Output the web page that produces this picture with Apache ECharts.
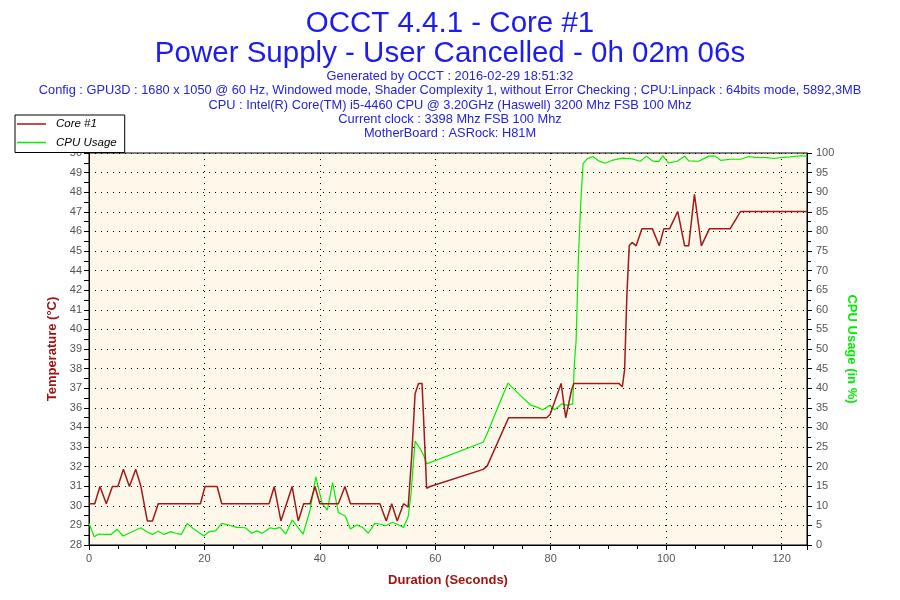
<!DOCTYPE html>
<html><head><meta charset="utf-8">
<script src="https://cdn.jsdelivr.net/npm/echarts@6/dist/echarts.min.js"></script>
<style>html,body{margin:0;padding:0;background:#fff}#c{width:900px;height:600px}</style>
</head><body><div id="c"></div>
<script>
const titleLines = ['OCCT 4.4.1 - Core #1', 'Power Supply - User Cancelled - 0h 02m 06s'];
const infoLines = [
  'Generated by OCCT : 2016-02-29 18:51:32',
  'Config : GPU3D : 1680 x 1050 @ 60 Hz, Windowed mode, Shader Complexity 1, without Error Checking ; CPU:Linpack : 64bits mode, 5892,3MB',
  'CPU : Intel(R) Core(TM) i5-4460 CPU @ 3.20GHz (Haswell) 3200 Mhz FSB 100 Mhz',
  'Current clock : 3398 Mhz FSB 100 Mhz',
  'MotherBoard : ASRock: H81M'
];
const seriesNames = ['Core #1', 'CPU Usage'];
const tempTickLabels = [28,29,30,31,32,33,34,36,37,38,39,40,41,42,44,45,46,47,48,49,50];
const tempMin = 27.6, tempMax = 50.4;
const timeMax = 124.4;

const coreTime = [0,1.0,1.9,3.0,4.05,5.0,5.96,7.0,8.1,9.0,10.1,11.0,12.0,19.3,20.1,21.4,22.2,23.0,31.2,32.1,33.25,35.2,36.25,37.2,38.3,39.15,40.0,43.2,44.35,45.3,50.4,51.5,52.45,53.4,54.5,55.3,55.9,56.5,57.1,57.7,57.9,58.5,59.1,68.3,69.0,72.7,79.3,79.9,81.8,82.6,83.6,84.0,91.8,92.4,92.8,93.2,93.6,94.1,94.8,95.8,97.6,98.8,99.6,100.6,102.0,103.2,103.9,104.9,106.1,107.5,111.1,112.9,124.4];
const coreTemp = [30,30,31,30,31,31,32,31,32,31,29,29,30,30,31,31,31,30,30,31,29,31,29,30,30,31,30,30,31,30,30,29,30,29,30,29.8,32.7,36.4,37,37,35.5,30.9,31,32,32.2,35,35,35.2,37,35,36.6,37,37,36.8,37.8,42.2,45,45.2,45,46,46,45,46,46,47,45,45,48,45,46,46,47,47];

const cpuTime = [0,0.9,1.7,2.6,3.8,4.9,5.9,6.9,9.0,10.0,11.0,12.0,13.0,14.2,15.0,16.0,17.0,18.0,19.9,20.8,21.9,23.0,24.2,25.6,27.1,28.2,29.1,30.0,31.4,32.2,33.1,34.1,35.2,36.1,37.1,38.3,39.3,39.7,40.4,41.3,42.2,43.2,44.4,45.3,46.4,47.4,48.4,49.5,50.5,51.4,52.6,53.4,54.5,55.3,55.8,56.1,56.5,57.4,58.0,58.5,68.3,68.9,71.0,72.6,74.5,76.5,77.4,78.6,79.8,80.7,81.9,82.9,83.8,84.1,84.4,84.8,85.2,85.6,86.3,87.3,88.3,89.4,90.6,92.4,94.1,95.5,96.6,97.6,98.7,99.4,100.4,101.9,103.2,103.9,105.6,107.4,108.5,109.5,111.1,112.9,114.3,115.3,117.5,118.6,120.2,121.5,123.3,124.4];
const cpuUsage = [5.5,2.1,2.8,2.7,2.7,4.0,2.3,3.0,4.4,3.4,2.7,3.5,2.7,3.4,3.0,2.7,5.5,4.3,2.3,3.4,3.6,5.5,5.1,4.5,4.4,3.0,3.6,3.0,4.4,4.1,4.5,2.8,6.4,4.7,2.8,8.9,17.4,14.9,10.6,8.9,15.9,8.3,7.4,4.1,5.1,4.5,3.0,5.5,5.3,4.9,5.8,5.3,4.5,7.2,13.2,19.1,26.5,24.5,22.8,20.7,26.2,28.1,35.7,41.3,38.5,35.7,35.3,34.5,35.6,34.5,36.0,35.6,36.0,46.4,52.3,73.6,87.2,97.3,98.5,99.1,98.0,97.4,98.1,98.7,98.5,97.9,99.2,98.0,97.8,99.3,97.5,97.9,99.2,98.0,97.9,99.2,99.2,98.1,98.4,98.4,99.1,98.9,98.8,98.6,98.9,99.0,99.3,99.2];

const tempStep = (tempMax - tempMin) / (tempTickLabels.length - 1);
const tempTickValues = tempTickLabels.map((_, i) => tempMin + i * tempStep);
const tempMinorValues = [];
for (let i = 0; i < tempTickLabels.length - 1; i++) tempMinorValues.push(tempMin + (i + 0.5) * tempStep);

const coreData = coreTime.map((t, i) => [t, coreTemp[i]]);
const cpuData = cpuTime.map((t, i) => [t, cpuUsage[i]]);

const FONT = 'Liberation Sans';
const titles = [];
titleLines.forEach((txt, i) => titles.push({
  text: txt, left: 'center', top: 4 + i * 30,
  textStyle: {fontSize: 29.5, fontWeight: 'normal', color: '#1c1cf2', fontFamily: FONT}
}));
infoLines.forEach((txt, i) => titles.push({
  text: txt, left: 'center', top: 65 + i * 14.3,
  textStyle: {fontSize: 12.8, fontWeight: 'normal', color: '#2323e0', fontFamily: FONT}
}));

const dotted = {color: '#000', type: [1, 5], width: 1};
const chart = echarts.init(document.getElementById('c'));
chart.setOption({
  animation: false,
  backgroundColor: '#fff',
  title: titles,
  legend: {
    data: seriesNames, orient: 'vertical', left: 15, top: 115,
    backgroundColor: '#fff', borderColor: '#000', borderWidth: 1, borderRadius: 0,
    padding: [3, 8, 4, 2], itemGap: 6.5, itemWidth: 29, itemHeight: 1.5, icon: 'rect',
    textStyle: {fontSize: 11.5, fontStyle: 'italic', color: '#000', fontFamily: FONT, padding: [0, 0, 0, 5]}
  },
  grid: {left: 89, right: 93, top: 153, bottom: 55, show: true, backgroundColor: '#fdf8ea', borderColor: '#000', borderWidth: 1},
  xAxis: {
    type: 'value', min: 0, max: timeMax, interval: 20,
    name: 'Duration (Seconds)', nameLocation: 'middle', nameGap: 29,
    nameTextStyle: {color: '#a01414', fontWeight: 'bold', fontSize: 13, fontFamily: FONT},
    axisLine: {lineStyle: {color: '#000'}},
    axisTick: {length: 5, lineStyle: {color: '#000'}},
    minorTick: {show: true, splitNumber: 4, length: 4, lineStyle: {color: '#000'}},
    splitLine: {show: true, lineStyle: dotted},
    axisLabel: {color: '#555', fontSize: 11, fontFamily: FONT, margin: 8, showMaxLabel: false}
  },
  yAxis: [{
    type: 'value', position: 'left', min: tempMin, max: tempMax,
    name: 'Temperature (°C)', nameLocation: 'middle', nameGap: 29,
    nameTextStyle: {color: '#a01414', fontWeight: 'bold', fontSize: 13, fontFamily: FONT},
    axisLine: {show: true, lineStyle: {color: '#000'}},
    axisTick: {show: true, length: 5, customValues: tempTickValues.concat(tempMinorValues), lineStyle: {color: '#000'}},
    axisLabel: {
      color: '#555', fontSize: 11, fontFamily: FONT, margin: 7,
      customValues: tempTickValues,
      formatter: v => String(tempTickLabels[Math.round((v - tempMin) / tempStep)])
    },
    splitLine: {show: false}
  }, {
    type: 'value', position: 'right', min: 0, max: 100, interval: 5,
    name: 'CPU Usage (in %)', nameLocation: 'middle', nameGap: 35, nameRotate: -90,
    nameTextStyle: {color: '#00ee00', fontWeight: 'bold', fontSize: 13, fontFamily: FONT},
    axisLine: {show: true, lineStyle: {color: '#000'}},
    axisTick: {show: true, length: 5, lineStyle: {color: '#000'}},
    minorTick: {show: true, splitNumber: 2, length: 4, lineStyle: {color: '#000'}},
    axisLabel: {color: '#555', fontSize: 11, fontFamily: FONT, margin: 9},
    splitLine: {show: true, lineStyle: dotted}
  }],
  series: [{
    name: seriesNames[0], type: 'line', xAxisIndex: 0, yAxisIndex: 0, data: coreData,
    symbol: 'none', itemStyle: {color: '#a31818'}, lineStyle: {color: '#a31818', width: 1.5}, z: 3
  }, {
    name: seriesNames[1], type: 'line', xAxisIndex: 0, yAxisIndex: 1, data: cpuData,
    symbol: 'none', itemStyle: {color: '#00f000'}, lineStyle: {color: '#00f000', width: 1.2}, z: 2
  }]
});
</script></body></html>
